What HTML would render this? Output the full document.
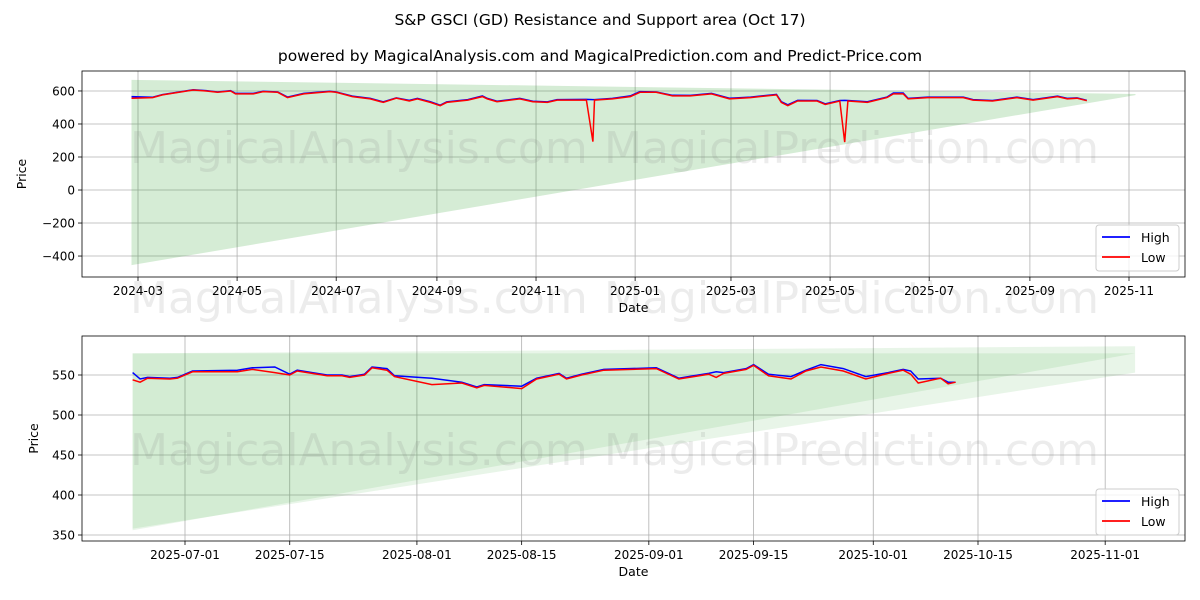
<!DOCTYPE html>
<html><head><meta charset="utf-8">
<style>
html,body{margin:0;padding:0;background:#fff;}
svg{display:block;font-family:"DejaVu Sans","Liberation Sans",sans-serif;}
</style></head>
<body>
<svg id="c" width="1200" height="600" xmlns="http://www.w3.org/2000/svg">
<defs>
<clipPath id="clip-top"><rect x="82" y="71" width="1103" height="206"/></clipPath>
<clipPath id="clip-bottom-panel"><rect x="82" y="336" width="1103" height="205"/></clipPath>
</defs>
<text x="600" y="25" text-anchor="middle" font-size="15.5">S&amp;P GSCI (GD) Resistance and Support area (Oct 17)</text>
<text x="600" y="61" text-anchor="middle" font-size="15.5">powered by MagicalAnalysis.com and MagicalPrediction.com and Predict-Price.com</text>
</svg>
<script>
// ---- Top panel data (days since 2024-03-01) ----
const topDays = [-4,9,15,34,42,49,57,60,71,77,86,92,102,118,122,132,143,151,159,167,172,180,186,190,203,212,215,221,235,243,252,258,276,280,281,292,303,309,319,329,340,353,364,377,393,396,400,406,418,423,432,435,437,449,461,465,471,474,486,508,514,526,541,551,566,572,578,584];
const topLow = [556,560,576,606,600,592,600,582,582,596,592,560,582,596,592,566,552,531,556,539,552,531,511,531,545,566,552,535,552,535,531,545,545,293,545,552,566,592,592,570,570,582,552,560,576,531,511,539,539,518,539,290,539,531,560,582,582,552,560,560,545,539,560,545,566,552,556,541];
const topHigh = [566,562,578,608,602,594,602,585,585,598,594,563,585,598,594,569,555,534,558,543,555,535,514,534,548,570,555,538,555,538,534,548,549,548,548,555,570,596,594,574,573,585,556,563,579,535,516,543,542,522,542,543,542,535,563,588,588,555,563,563,548,542,563,548,569,555,558,543];
const topTicksY = [-400,-200,0,200,400,600];
const topTickLabelsX = ["2024-03","2024-05","2024-07","2024-09","2024-11","2025-01","2025-03","2025-05","2025-07","2025-09","2025-11"];
const topTickDaysX = [0,61,122,184,245,306,365,426,487,549,610];
const topBandDays = [-4,614];
const topBandUpper = [667,582];
const topBandLower = [-455,575];

// ---- Bottom panel data (days since 2025-07-01) ----
const botDays = [-7,-6,-5,-2,-1,1,7,9,12,14,15,17,19,21,22,24,25,27,28,33,37,39,40,45,47,50,51,53,56,63,66,68,70,71,72,75,76,78,81,83,85,88,91,94,96,97,98,101,102,103];
const botLow = [544,541,546,545,546,554,554,557,553,550,555,552,549,549,547,550,559,556,548,538,540,534,537,533,545,551,545,550,556,558,545,548,551,547,552,557,562,549,545,555,560,555,545,552,556,551,540,546,539,541];
const botHigh = [553,545,547,546,547,555,556,559,560,551,556,553,550,550,548,551,560,558,549,546,541,535,538,536,546,552,546,551,557,559,546,549,552,554,553,558,563,551,548,556,563,558,548,553,557,555,545,546,541,541];
const botTicksY = [350,400,450,500,550];
const botTickLabelsX = ["2025-07-01","2025-07-15","2025-08-01","2025-08-15","2025-09-01","2025-09-15","2025-10-01","2025-10-15","2025-11-01"];
const botTickDaysX = [0,14,31,45,62,76,92,106,123];
const botBandDays = [-7,127];
const botBand1Upper = [577,577];
const botBand1Lower = [358,553];
const botBand2Upper = [577,586];
const botBand2Lower = [356,577];

const NS="http://www.w3.org/2000/svg";
const svg=document.getElementById('c');
function mk(tag,attrs,parent){const e=document.createElementNS(NS,tag);for(const k in attrs)e.setAttribute(k,attrs[k]);(parent||svg).appendChild(e);return e;}

function panel(p){
  const g=mk('g',{});
  
  
  const X=d=>p.xa+(d-p.da)*(p.xb-p.xa)/(p.db-p.da);
  const Y=v=>p.y1-(v-p.v0)*(p.y1-p.y0)/(p.v1-p.v0);
  p.tx.forEach(d=>{const l=mk('line',{x1:X(d),x2:X(d),y1:p.y0,y2:p.y1,stroke:'#b0b0b0','stroke-width':0.8},g);
    
    });
  p.ty.forEach(v=>{const l=mk('line',{x1:p.x0,x2:p.x1,y1:Y(v),y2:Y(v),stroke:'#b0b0b0','stroke-width':0.8},g);
    
    });
  const cg=mk('g',{'clip-path':'url(#'+p.clip+')'},g);
  p.bands.forEach(b=>{
    const pts=[[b.d[0],b.u[0]],[b.d[1],b.u[1]],[b.d[1],b.l[1]],[b.d[0],b.l[0]]].map(q=>X(q[0])+','+Y(q[1])).join(' ');
    const pg=mk('polygon',{points:pts,fill:'#2ca02c','fill-opacity':p.bandAlpha},cg);
    
    
  });
  p.wm.forEach(w=>{const t=mk('text',{x:w[0],y:w[1],'font-size':44,fill:'#808080','fill-opacity':0.15},g);t.textContent=w[2];
    
    });
  const path=(arr)=>p.days.map((d,i)=>(i?'L':'M')+X(d).toFixed(1)+','+Y(arr[i]).toFixed(1)).join('');
  const hi=mk('path',{d:path(p.high),fill:'none',stroke:'#0000ff','stroke-width':1.5},cg);
  
  
  const lo=mk('path',{d:path(p.low),fill:'none',stroke:'#ff0000','stroke-width':1.5},cg);
  
  
  const fr=mk('rect',{x:p.x0,y:p.y0,width:p.x1-p.x0,height:p.y1-p.y0,fill:'none',stroke:'#000','stroke-width':0.8},g);
  
  
  p.tx.forEach((d,i)=>{mk('line',{x1:X(d),x2:X(d),y1:p.y1,y2:p.y1+4,stroke:'#000','stroke-width':0.8},g);
    const t=mk('text',{x:X(d),y:p.y1+18,'text-anchor':'middle','font-size':12},g);t.textContent=p.txl[i];
    
    });
  p.ty.forEach(v=>{mk('line',{x1:p.x0-4,x2:p.x0,y1:Y(v),y2:Y(v),stroke:'#000','stroke-width':0.8},g);
    const t=mk('text',{x:p.x0-7,y:Y(v)+4.5,'text-anchor':'end','font-size':12},g);t.textContent=String(v).replace('-','\u2212');
    
    });
  const xl=mk('text',{x:(p.x0+p.x1)/2,y:p.y1+35,'text-anchor':'middle','font-size':12.5},g);xl.textContent='Date';
  
  
  const yl=mk('text',{x:p.ylx,y:(p.y0+p.y1)/2,'text-anchor':'middle','font-size':12.5,transform:`rotate(-90 ${p.ylx} ${(p.y0+p.y1)/2})`},g);yl.textContent='Price';
  
  
  const lg=mk('g',{},g);
  
  
  const ly=p.y1-52;
  mk('rect',{x:1096,y:ly,width:83,height:46,rx:3,fill:'#fff','fill-opacity':0.8,stroke:'#ccc'},lg);
  [['High','#0000ff'],['Low','#ff0000']].forEach((e,i)=>{
    const eg=mk('g',{},lg);
    
    
    mk('line',{x1:1102,x2:1130,y1:ly+12+i*20,y2:ly+12+i*20,stroke:e[1],'stroke-width':1.8},eg);
    const t=mk('text',{x:1141,y:ly+17+i*20,'font-size':12.5},eg);t.textContent=e[0];
  });
}

panel({name:'top-panel',clip:'clip-top',bandAlpha:0.2,x0:82,x1:1185,y0:71,y1:277,xa:138,xb:1129,da:0,db:610,v0:-527,v1:721,ylx:26,
  days:topDays,low:topLow,high:topHigh,tx:topTickDaysX,txl:topTickLabelsX,ty:topTicksY,
  bands:[{d:topBandDays,u:topBandUpper,l:topBandLower}],
  wm:[[130,163,'MagicalAnalysis.com'],[604,163,'MagicalPrediction.com'],[130,313,'MagicalAnalysis.com'],[604,313,'MagicalPrediction.com']]});
panel({name:'bottom-panel',clip:'clip-bottom-panel',bandAlpha:0.11,x0:82,x1:1185,y0:336,y1:541,xa:185,xb:978,da:0,db:106,v0:342.5,v1:598.75,ylx:38,
  days:botDays,low:botLow,high:botHigh,tx:botTickDaysX,txl:botTickLabelsX,ty:botTicksY,
  bands:[{d:botBandDays,u:botBand1Upper,l:botBand1Lower},{d:botBandDays,u:botBand2Upper,l:botBand2Lower}],
  wm:[[130,465,'MagicalAnalysis.com'],[604,465,'MagicalPrediction.com']]});
</script>
</body></html>
